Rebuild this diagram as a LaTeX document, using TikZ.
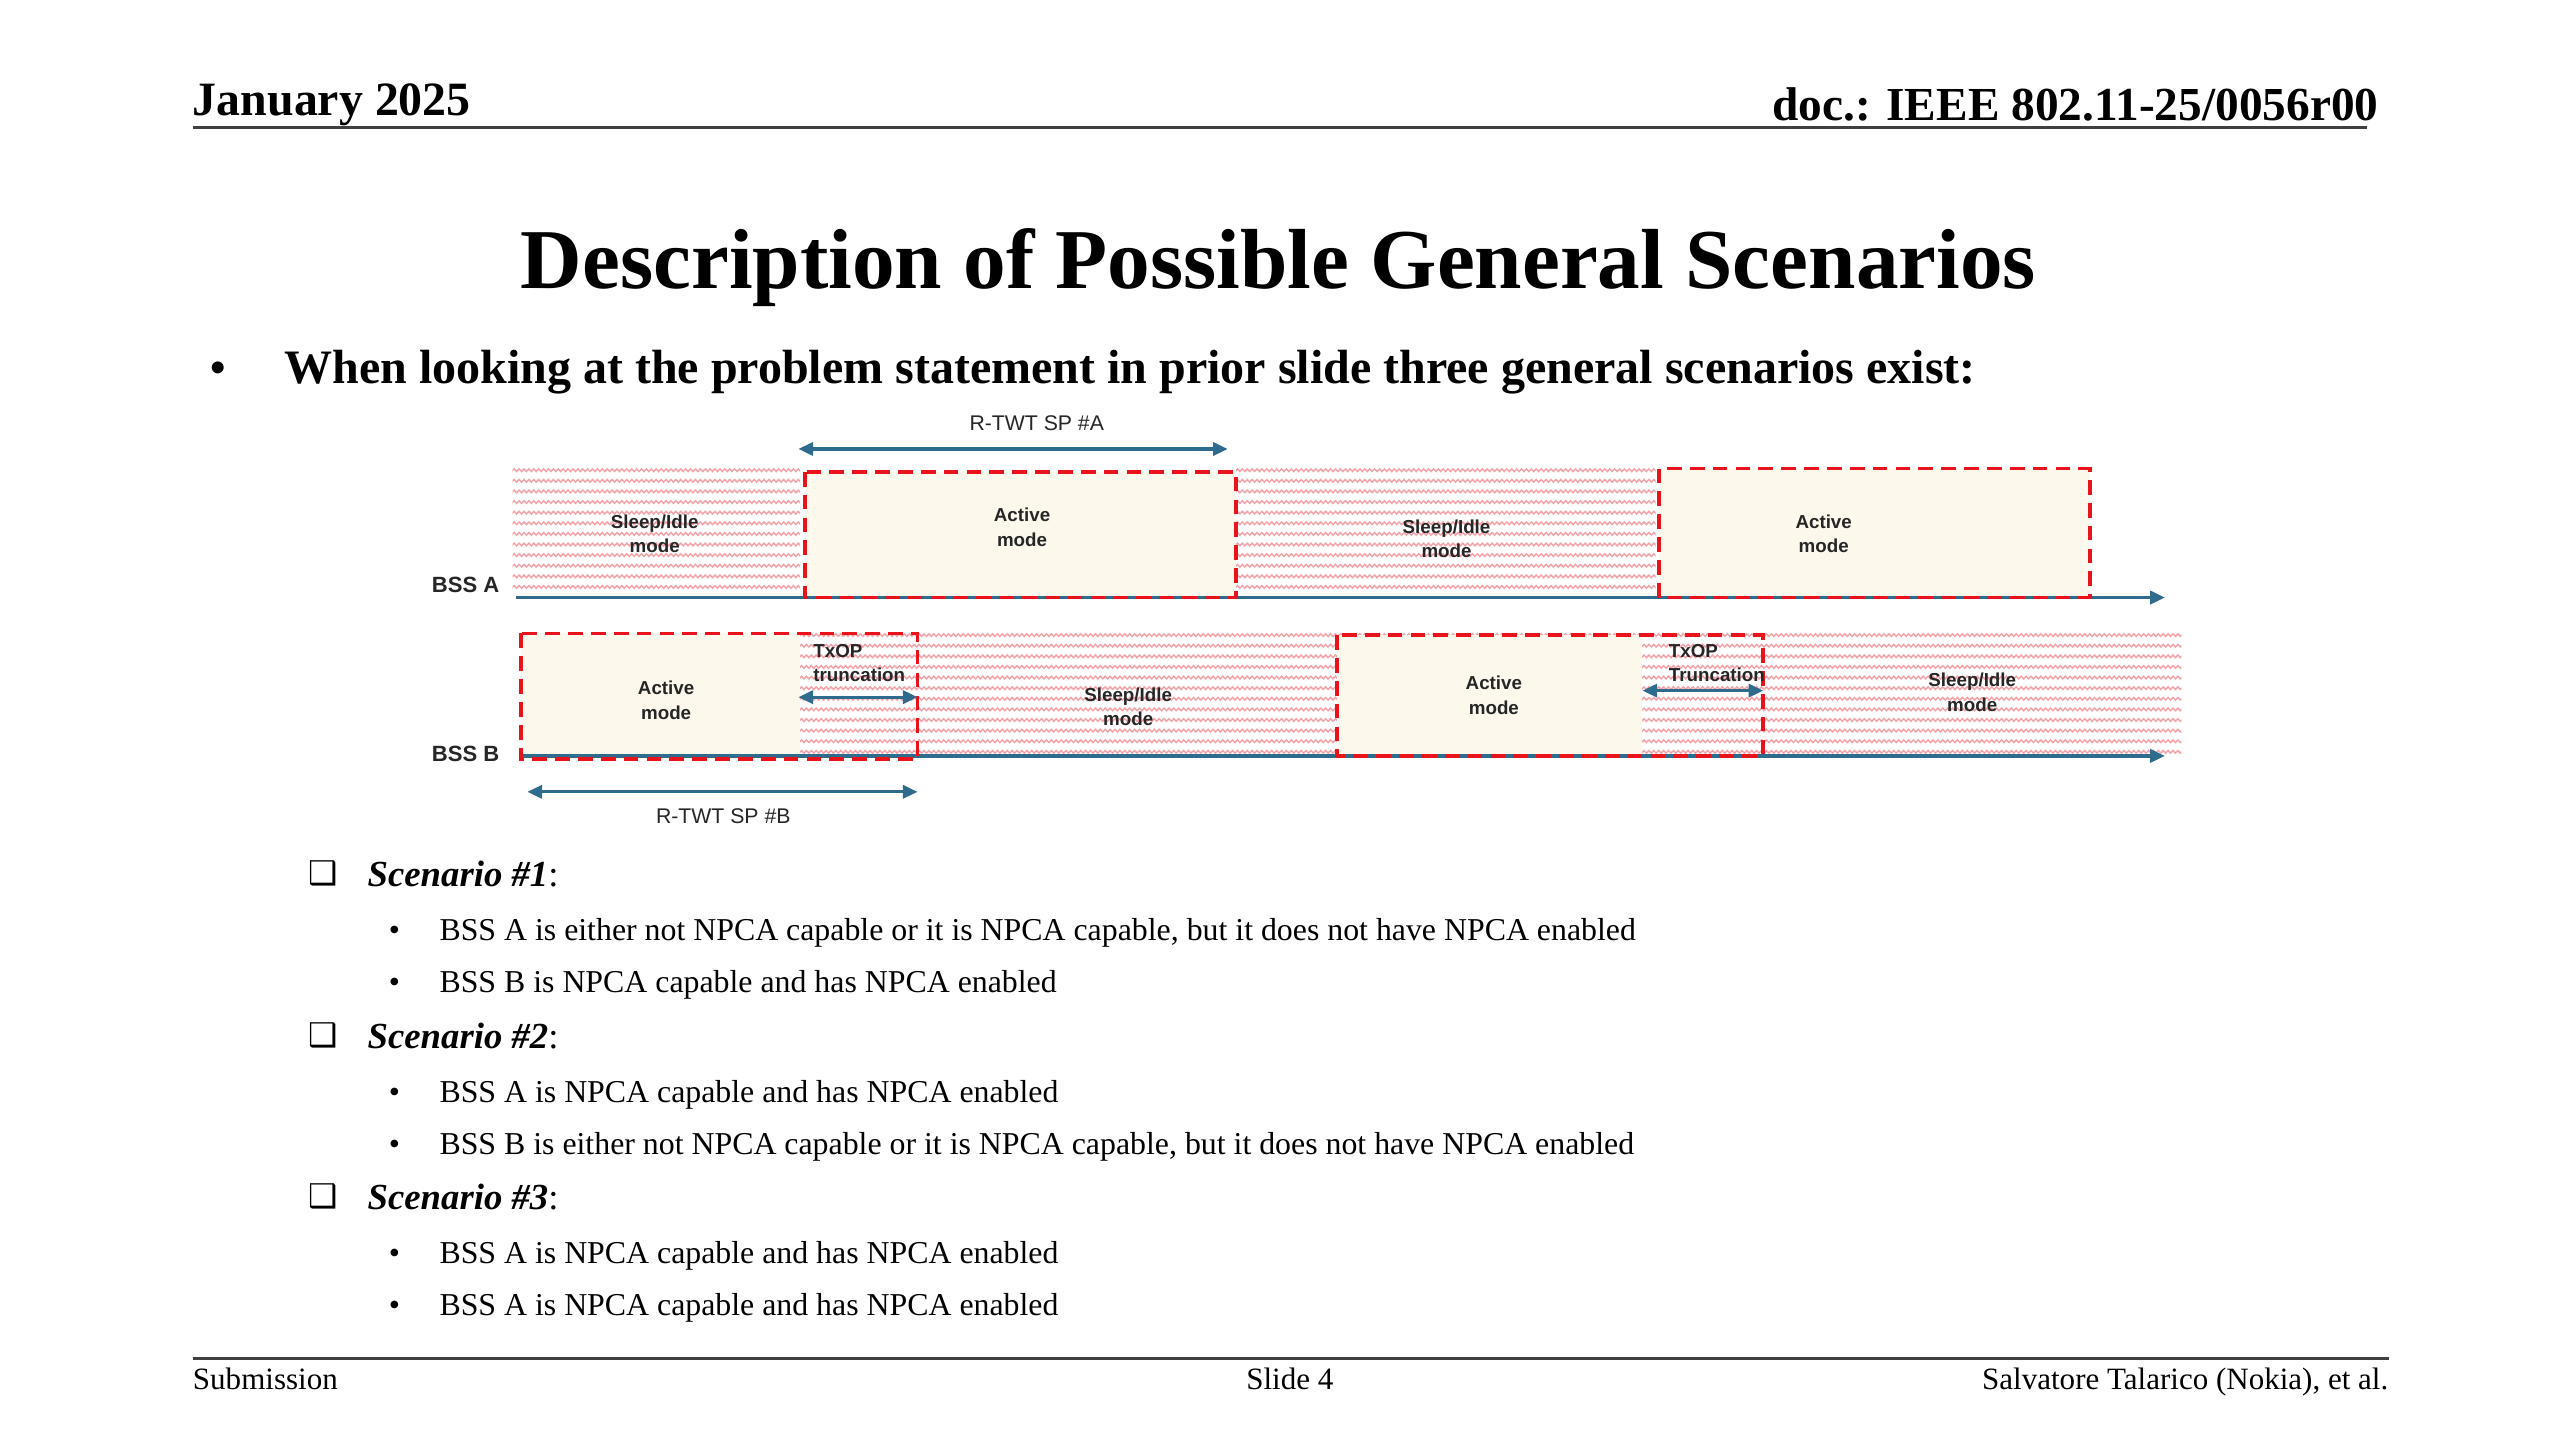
\documentclass[tikz,border=0pt]{standalone}
\usepackage{fontspec}
\setmainfont{Liberation Serif}
\setsansfont{Liberation Sans}
\newfontfamily\dejavu{DejaVu Sans}
\usetikzlibrary{arrows.meta,decorations.pathmorphing}
\definecolor{axisblue}{HTML}{2F6B8C}
\definecolor{dashred}{HTML}{E8131B}
\definecolor{cream}{HTML}{FDF8EC}
\definecolor{hatchpink}{HTML}{F4A3AB}
\newcommand{\hatchrect}[4]{%
  \begin{scope}
    \clip (#1,#2) rectangle (#3,#4);
    \foreach \i in {0,...,13}{
      \draw[hatchpink, line width=0.9pt, decorate, decoration={snake, amplitude=0.8pt, segment length=3pt}]
        ({#1-3},{#2+3+\i*6.5}) -- ({#3+3},{#2+3+\i*6.5});
    }
  \end{scope}}
\tikzset{
  txt/.style={inner sep=0pt, anchor=base west},
  dlabel/.style={font=\sffamily\bfseries\fontsize{11.5}{15}\selectfont, align=center, inner sep=0pt, text=black!85},
  rowlabel/.style={font=\sffamily\bfseries\fontsize{13.5}{15}\selectfont, inner sep=0pt, anchor=east, text=black!85},
  spanlabel/.style={font=\sffamily\fontsize{13}{15}\selectfont, inner sep=0pt, text=black!85},
  axisline/.style={draw=axisblue, line width=2pt, -{Triangle[length=9pt,width=8pt]}},
  spanarrow/.style={draw=axisblue, line width=2pt, {Triangle[length=9pt,width=8pt]}-{Triangle[length=9pt,width=8pt]}},
  activebox/.style={draw=dashred, line width=2.2pt, dash pattern=on 9pt off 5pt},
  creamfill/.style={fill=cream, draw=none},
  rule/.style={draw=black!75, line width=1.5pt},
  bodytext/.style={txt, font=\fontsize{19.5}{22}\selectfont},
  scen/.style={txt, font=\fontsize{22.5}{26}\selectfont},
  footer/.style={inner sep=0pt, anchor=base, font=\fontsize{19}{22}\selectfont},
}
\begin{document}
\begin{tikzpicture}[x=1pt,y=-1pt]
\useasboundingbox[fill=white] (0,0) rectangle (1568,882);

% header
\node[txt, font=\bfseries\fontsize{29.3}{32}\selectfont] (date) at (118,71) {January 2025};
\node[inner sep=0pt, anchor=base east, font=\bfseries\fontsize{29}{32}\selectfont] (doc) at (1457,74) {doc.: IEEE 802.11-25/0056r00};
\coordinate (hl) at (118,78); \coordinate (hr) at (1450,78);
\draw[rule] (hl) -- (hr);

% title
\node[inner sep=0pt, anchor=base, font=\bfseries\fontsize{52.2}{56}\selectfont] (title) at (783,177) {Description of Possible General Scenarios};

% main bullet
\node[txt, font=\bfseries\fontsize{27}{32}\selectfont] (b0) at (129,234) {•};
\node[txt, font=\bfseries\fontsize{29.4}{32}\selectfont] (intro) at (174,235) {When looking at the problem statement in prior slide three general scenarios exist:};

% ---------- diagram ----------
% hatched sleep regions
\hatchrect{314}{285}{490}{362}
\hatchrect{757}{285}{1014}{362}
\hatchrect{490}{386}{1336}{462}
% cream active regions
\path[creamfill] (493,289) rectangle (757,366);
\path[creamfill] (1016,287) rectangle (1280,366);
\path[creamfill] (319,388) rectangle (490,465);
\path[creamfill] (819,389) rectangle (1006,463);

% axes
\coordinate (a0) at (316,366); \coordinate (a1) at (1326,366);
\coordinate (b0s) at (320,463); \coordinate (b1) at (1326,463);
\draw[axisline] (a0) -- (a1);
\draw[axisline] (b0s) -- (b1);

% dashed active boxes
\draw[activebox] (493,289) rectangle (757,366);
\draw[activebox] (1016,287) rectangle (1280,366);
\draw[activebox] (319,388) rectangle (562,465);
\draw[activebox] (819,389) rectangle (1080,463);

% row labels
\node[rowlabel] (bssa) at (306,358) {BSS A};
\node[rowlabel] (bssb) at (306,462) {BSS B};

% BSS A labels
\node[dlabel] (sa1) at (401,327) {Sleep/Idle\\mode};
\node[dlabel] (aa1) at (626,323) {Active\\mode};
\node[dlabel] (sa2) at (886,330) {Sleep/Idle\\mode};
\node[dlabel] (aa2) at (1117,327) {Active\\mode};

% BSS B labels
\node[dlabel] (ab1) at (408,429) {Active\\mode};
\node[dlabel, align=left, anchor=west] (tx1) at (498,406) {TxOP\\truncation};
\node[dlabel] (sb1) at (691,433) {Sleep/Idle\\mode};
\node[dlabel] (ab2) at (915,426) {Active\\mode};
\node[dlabel, align=left, anchor=west] (tx2) at (1022,406) {TxOP\\Truncation};
\node[dlabel] (sb2) at (1208,424) {Sleep/Idle\\mode};

% span arrows
\coordinate (ra0) at (489,275); \coordinate (ra1) at (752,275);
\draw[spanarrow] (ra0) -- (ra1);
\node[spanlabel] (rtwta) at (635,259) {R-TWT SP \#A};
\coordinate (rb0) at (323,485); \coordinate (rb1) at (562,485);
\draw[spanarrow] (rb0) -- (rb1);
\node[spanlabel] (rtwtb) at (443,500) {R-TWT SP \#B};
\coordinate (t10) at (489,427); \coordinate (t11) at (562,427);
\draw[spanarrow] (t10) -- (t11);
\coordinate (t20) at (1006,423); \coordinate (t21) at (1080,423);
\draw[spanarrow] (t20) -- (t21);

% ---------- scenarios ----------
\node[inner sep=0pt, font=\dejavu\fontsize{20}{22}\selectfont] (cb1) at (198,535) {❑};
\node[scen] (s1) at (225,543) {\textbf{\textit{Scenario \#1}}:};
\node[bodytext] (d11) at (238,576) {•};
\node[bodytext] (l11) at (269,576) {BSS A is either not NPCA capable or it is NPCA capable, but it does not have NPCA enabled};
\node[bodytext] (d12) at (238,608) {•};
\node[bodytext] (l12) at (269,608) {BSS B is NPCA capable and has NPCA enabled};

\node[inner sep=0pt, font=\dejavu\fontsize{20}{22}\selectfont] (cb2) at (198,634) {❑};
\node[scen] (s2) at (225,642) {\textbf{\textit{Scenario \#2}}:};
\node[bodytext] (d21) at (238,675) {•};
\node[bodytext] (l21) at (269,675) {BSS A is NPCA capable and has NPCA enabled};
\node[bodytext] (d22) at (238,707) {•};
\node[bodytext] (l22) at (269,707) {BSS B is either not NPCA capable or it is NPCA capable, but it does not have NPCA enabled};

\node[inner sep=0pt, font=\dejavu\fontsize{20}{22}\selectfont] (cb3) at (198,733) {❑};
\node[scen] (s3) at (225,741) {\textbf{\textit{Scenario \#3}}:};
\node[bodytext] (d31) at (238,774) {•};
\node[bodytext] (l31) at (269,774) {BSS A is NPCA capable and has NPCA enabled};
\node[bodytext] (d32) at (238,806) {•};
\node[bodytext] (l32) at (269,806) {BSS A is NPCA capable and has NPCA enabled};

% footer
\coordinate (fl) at (118,832); \coordinate (fr) at (1463,832);
\draw[rule] (fl) -- (fr);
\node[txt, font=\fontsize{19}{22}\selectfont] (sub) at (118,851) {Submission};
\node[footer] (slide) at (790,851) {Slide 4};
\node[inner sep=0pt, anchor=base east, font=\fontsize{19}{22}\selectfont] (auth) at (1463,851) {Salvatore Talarico (Nokia), et al.};
\end{tikzpicture}
\end{document}
